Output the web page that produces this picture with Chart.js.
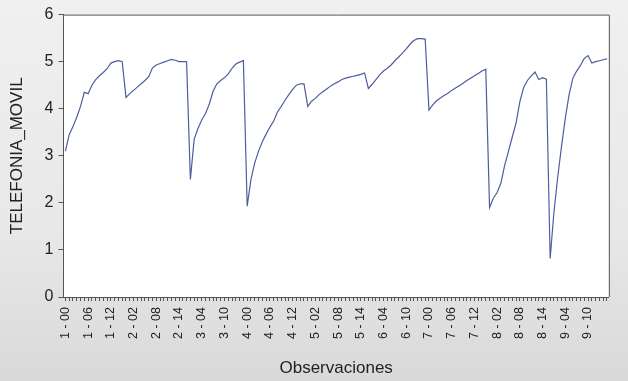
<!DOCTYPE html>
<html>
<head>
<meta charset="utf-8">
<script src="https://cdn.jsdelivr.net/npm/chart.js@4/dist/chart.umd.min.js"></script>
<style>
  html, body { margin: 0; padding: 0; }
  body { width: 628px; height: 381px; background: linear-gradient(#f0f0f0 0%, #e8e8e8 60%, #d9d9d9 100%); overflow: hidden; }
  #wrap { position: relative; width: 628px; height: 381px; }
</style>
</head>
<body>
<div id="wrap"><canvas id="c" width="628" height="381"></canvas></div>
<script>
// Panel identifiers and periods (x tick labels are "panel - period")
const panelIds = [1, 2, 3, 4, 5, 6, 7, 8, 9];
const periods = ['00','01','02','03','04','05','06','07','08','09','10','11','12','13','14','15'];

// TELEFONIA_MOVIL values, one array per panel
const g1 = [3.10, 3.45, 3.62, 3.82, 4.05, 4.35, 4.32, 4.50, 4.62, 4.70, 4.77, 4.85, 4.97, 5.00, 5.02, 5.00];
const g2 = [4.24, 4.32, 4.39, 4.46, 4.53, 4.60, 4.68, 4.87, 4.93, 4.96, 4.99, 5.02, 5.05, 5.03, 5.00, 5.00];
const g3 = [5.00, 2.50, 3.35, 3.58, 3.76, 3.90, 4.10, 4.37, 4.53, 4.60, 4.66, 4.74, 4.86, 4.95, 4.99, 5.02];
const g4 = [1.93, 2.50, 2.85, 3.10, 3.30, 3.46, 3.61, 3.74, 3.93, 4.05, 4.18, 4.30, 4.41, 4.50, 4.53, 4.53];
const g5 = [4.05, 4.16, 4.22, 4.30, 4.36, 4.42, 4.48, 4.53, 4.57, 4.62, 4.65, 4.67, 4.69, 4.71, 4.73, 4.76];
const g6 = [4.43, 4.52, 4.62, 4.72, 4.80, 4.86, 4.93, 5.02, 5.10, 5.18, 5.27, 5.37, 5.45, 5.49, 5.49, 5.48];
const g7 = [3.97, 4.08, 4.17, 4.23, 4.28, 4.33, 4.39, 4.44, 4.49, 4.54, 4.60, 4.65, 4.70, 4.75, 4.80, 4.84];
const g8 = [1.90, 2.10, 2.22, 2.42, 2.80, 3.10, 3.40, 3.70, 4.15, 4.45, 4.60, 4.70, 4.78, 4.62, 4.66, 4.63];
const g9 = [0.82, 1.80, 2.55, 3.20, 3.80, 4.30, 4.65, 4.80, 4.92, 5.07, 5.13, 4.97, 5.00, 5.02, 5.04, 5.06];

const yTicks = [0, 1, 2, 3, 4, 5, 6];
const labelEvery = 6;

const labels = [];
panelIds.forEach(p => periods.forEach(t => labels.push(p + ' - ' + t)));
const values = [].concat(g1, g2, g3, g4, g5, g6, g7, g8, g9);

const frame = {
  id: 'frame',
  beforeDraw(chart) {
    const {ctx, chartArea: a} = chart;
    ctx.save();
    ctx.fillStyle = '#ffffff';
    ctx.fillRect(a.left, a.top, a.right - a.left, a.bottom - a.top);
    ctx.restore();
  },
  afterDraw(chart) {
    const {ctx, chartArea: a} = chart;
    ctx.save();
    ctx.strokeStyle = '#555555';
    ctx.lineWidth = 1;
    ctx.beginPath();
    ctx.moveTo(a.left, a.top + 0.5);
    ctx.lineTo(a.right + 0.5, a.top + 0.5);
    ctx.lineTo(a.right + 0.5, a.bottom);
    ctx.stroke();
    ctx.restore();
  }
};

const fontFam = "'Liberation Sans', Arial, sans-serif";

new Chart(document.getElementById('c'), {
  type: 'line',
  data: {
    labels: labels,
    datasets: [{
      data: values,
      borderColor: '#4f5c9e',
      borderWidth: 1.2,
      pointRadius: 0,
      tension: 0,
      fill: false
    }]
  },
  options: {
    responsive: false,
    animation: false,
    events: [],
    layout: { padding: { left: 0, right: 10, top: 13, bottom: 0 } },
    plugins: { legend: { display: false }, tooltip: { enabled: false } },
    scales: {
      x: {
        type: 'category',
        offset: true,
        grid: { drawOnChartArea: false, drawTicks: true, tickLength: 4, tickColor: '#555555', offset: false },
        border: { display: true, color: '#555555', width: 1 },
        ticks: {
          autoSkip: false,
          minRotation: 90,
          maxRotation: 90,
          padding: 6,
          color: '#222222',
          font: { family: fontFam, size: 12.5 },
          callback: function(v, i) { return i % labelEvery === 0 ? labels[i] : ''; }
        },
        title: {
          display: true,
          text: 'Observaciones',
          color: '#222222',
          font: { family: fontFam, size: 17 },
          padding: { top: 0, bottom: 2 }
        },
        afterFit: function(s) { s.height = 84; }
      },
      y: {
        min: 0,
        max: 6,
        afterBuildTicks: function(s) { s.ticks = yTicks.map(v => ({ value: v })); },
        grid: { drawOnChartArea: false, drawTicks: true, tickLength: 5, tickColor: '#555555' },
        border: { display: true, color: '#555555', width: 1 },
        ticks: {
          padding: 5,
          color: '#222222',
          font: { family: fontFam, size: 16 }
        },
        title: {
          display: true,
          text: 'TELEFONIA_MOVIL',
          color: '#222222',
          font: { family: fontFam, size: 17 },
          padding: { top: 7, bottom: 0 }
        },
        afterFit: function(s) { s.width = 63.5; }
      }
    }
  },
  plugins: [frame]
});
</script>
</body>
</html>
